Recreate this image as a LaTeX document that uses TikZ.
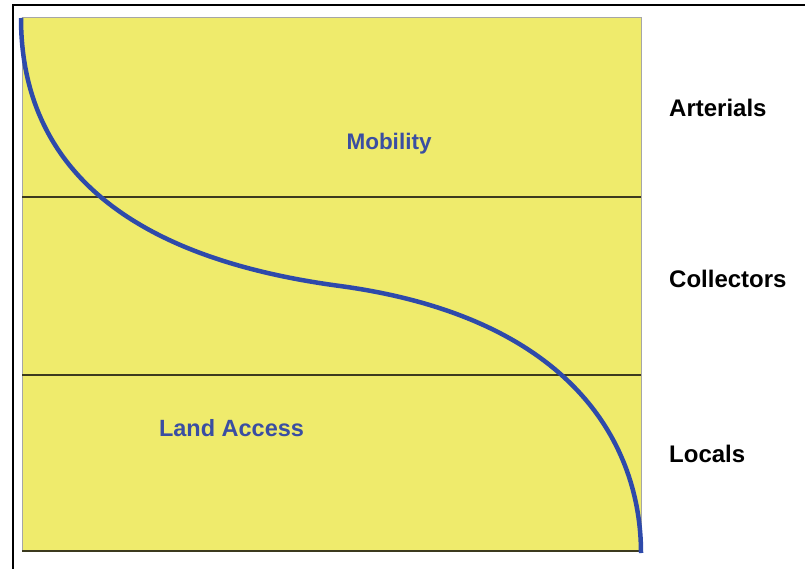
\documentclass[tikz,border=0pt]{standalone}
\usepackage{fontspec}
\setmainfont{Liberation Sans}
\definecolor{fieldyellow}{RGB}{239,235,108}
\definecolor{curveblue}{RGB}{46,74,170}
\definecolor{textblue}{RGB}{58,78,162}
\definecolor{bandline}{RGB}{60,58,30}
\tikzset{
  sidelabel/.style={anchor=base west, inner sep=0pt, font=\fontsize{24}{28}\selectfont\bfseries, text=black},
  innerlabel/.style={anchor=base, inner sep=0pt, font=\fontsize{22.5}{26}\selectfont\bfseries, text=textblue},
  band/.style={draw=bandline, line width=1.2pt},
  frameline/.style={draw=black, line width=2pt}
}
\begin{document}
\begin{tikzpicture}[x=1pt,y=-1pt]
\useasboundingbox (0,0) rectangle (805,569);
% outer frame (left and top edges)
\draw[frameline] (12.5,569) -- (12.5,5.5) -- (805,5.5);
% yellow field
\fill[fieldyellow] (22,18) rectangle (641,551);
\draw[gray!70, line width=1pt] (22,551) -- (22,18) -- (641,18) -- (641,551);
\draw[bandline, line width=1.5pt] (22,551) -- (641,551);
% band separators
\draw[band] (22,197) -- (641,197);
\draw[band] (22,375) -- (641,375);
% curve
\coordinate (cstart) at (21,18);
\coordinate (cmid) at (340,286);
\coordinate (cend) at (641,553);
\draw[curveblue, line width=4.5pt]
  (cstart) .. controls (21,133) and (85,252) .. (cmid)
           .. controls (575,318) and (641,447) .. (cend);
% labels
\node[innerlabel] (mob) at (389,150) {Mobility};
\node[innerlabel, font=\fontsize{23.5}{27}\selectfont\bfseries] (land) at (231.5,436) {Land Access};
\node[sidelabel] (art) at (669,117) {Arterials};
\node[sidelabel] (col) at (669,287) {Collectors};
\node[sidelabel] (loc) at (669,462) {Locals};
\end{tikzpicture}
\end{document}
